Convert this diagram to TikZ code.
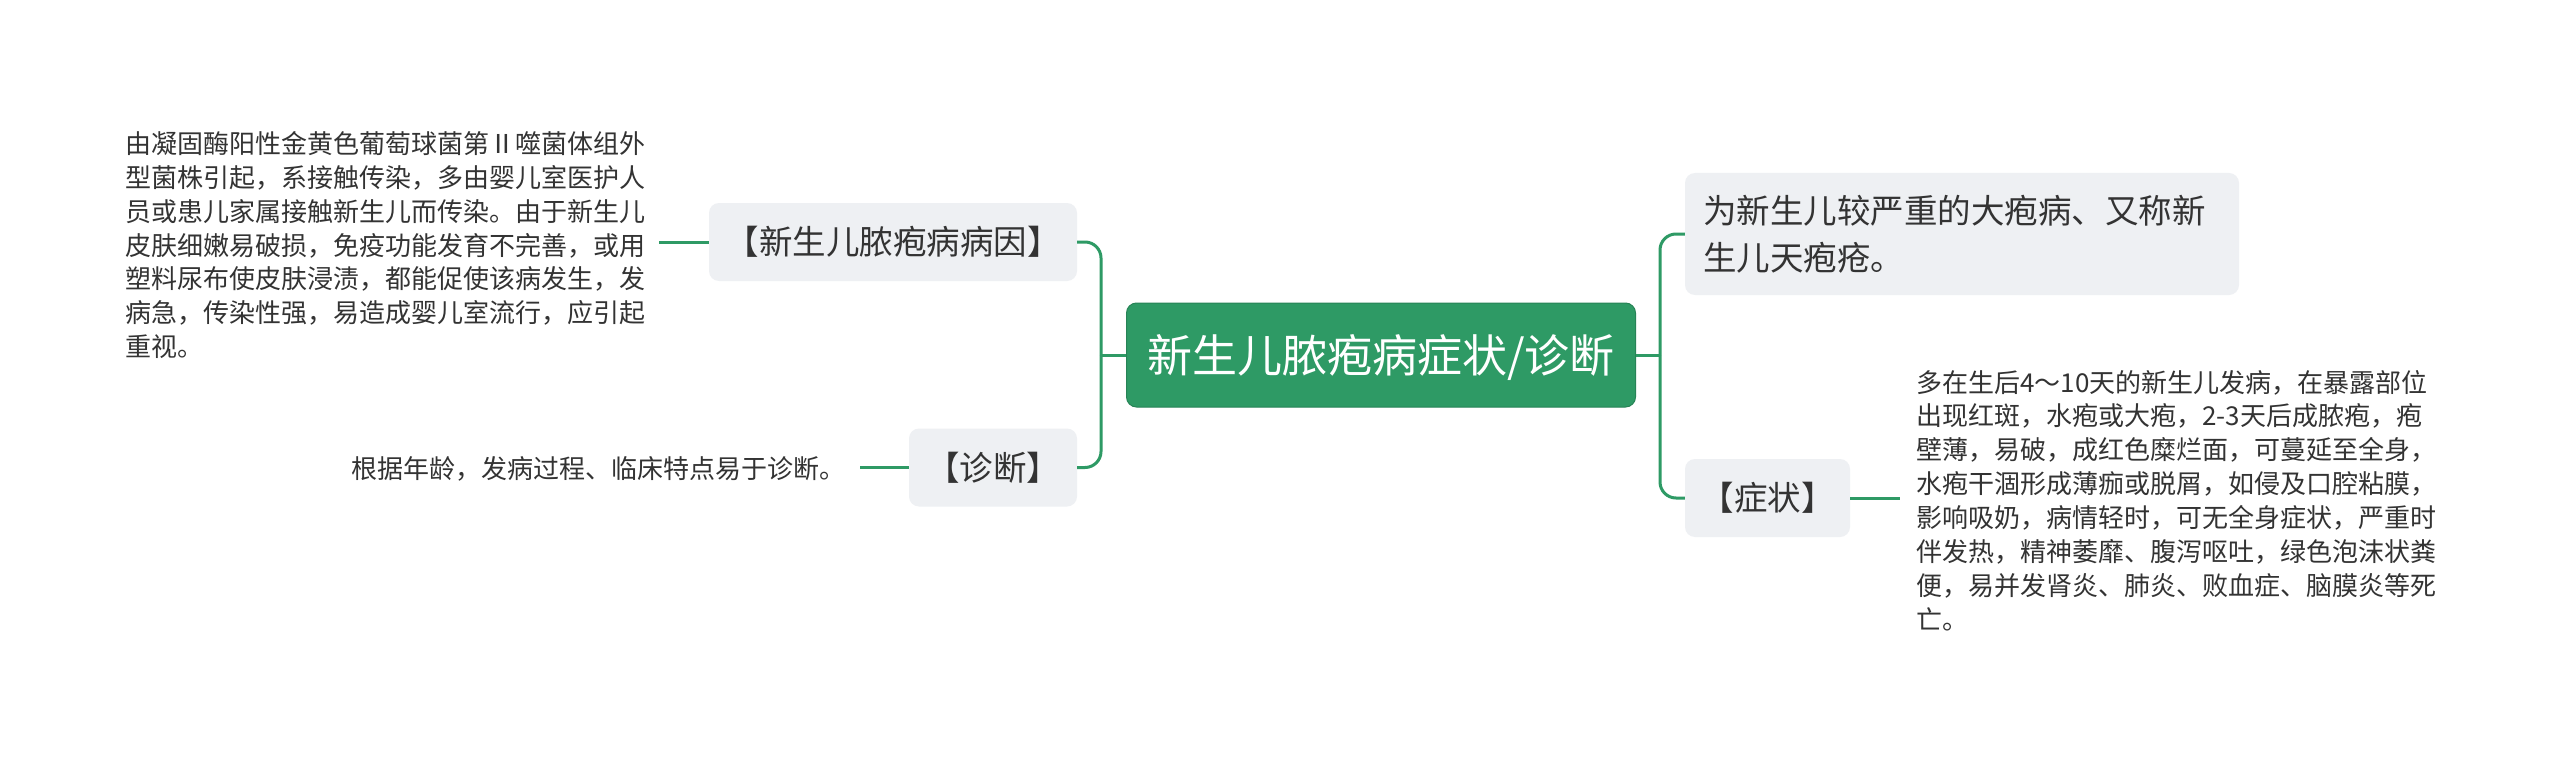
\documentclass[tikz,border=0pt]{standalone}
\usepackage{fontspec}
\setmainfont{Noto Sans CJK SC}
\definecolor{mgreen}{HTML}{2E9A65}
\definecolor{boxgray}{HTML}{EEF0F3}
\definecolor{txt}{HTML}{333333}
\tikzset{
  topicbox/.style={rectangle, rounded corners=10pt, fill=boxgray, text=txt,
    font=\fontsize{33.5}{47}\selectfont, inner sep=0pt,
    text height=29pt, text depth=4pt},
  centralbox/.style={rectangle, rounded corners=10pt, fill=mgreen, draw=mgreen!85!black, line width=1pt,
    text=white, font=\fontsize{45}{54}\selectfont, inner sep=0pt,
    text height=39.5pt, text depth=5.5pt, minimum width=509pt, minimum height=104pt},
  para/.style={text=txt, font=\fontsize{26}{33.9}\selectfont, inner sep=0pt,
    align=left, anchor=base west},
  conn/.style={draw=mgreen, line width=3pt, rounded corners=16pt}
}
\begin{document}
\begin{tikzpicture}[x=1pt,y=-1pt]
\useasboundingbox[fill=white] (0,0) rectangle (2560,757);

% central
\node[centralbox] (c) at (1381,355) {新生儿脓疱病症状/诊断};

% left topics
\node[topicbox, minimum width=368pt, minimum height=78pt] (cause) at (893,242) {【新生儿脓疱病病因】};
\node[topicbox, minimum width=168pt, minimum height=78pt] (diag) at (993,467.5) {【诊断】};

% right topics
\node[topicbox, minimum width=554pt, minimum height=122pt, text width=518pt, align=left,
      text height=, text depth=, inner xsep=18pt] (def) at (1962,234)
  {为新生儿较严重的大疱病、又称新\\生儿天疱疮。};
\node[topicbox, minimum width=165pt, minimum height=78pt] (sym) at (1767.5,498) {【症状】};

% leaf texts
\node[para, text width=545pt] (causetext) at (125,153.4)
  {由凝固酶阳性金黄色葡萄球菌第Ⅱ噬菌体组外\\
   型菌株引起，系接触传染，多由婴儿室医护人\\
   员或患儿家属接触新生儿而传染。由于新生儿\\
   皮肤细嫩易破损，免疫功能发育不完善，或用\\
   塑料尿布使皮肤浸渍，都能促使该病发生，发\\
   病急，传染性强，易造成婴儿室流行，应引起\\
   重视。};
\node[para] (diagtext) at (351,478) {根据年龄，发病过程、临床特点易于诊断。};
\node[para, text width=545pt] (symtext) at (1916,392)
  {多在生后4～10天的新生儿发病，在暴露部位\\
   出现红斑，水疱或大疱，2-3天后成脓疱，疱\\
   壁薄，易破，成红色糜烂面，可蔓延至全身，\\
   水疱干涸形成薄痂或脱屑，如侵及口腔粘膜，\\
   影响吸奶，病情轻时，可无全身症状，严重时\\
   伴发热，精神萎靡、腹泻呕吐，绿色泡沫状粪\\
   便，易并发肾炎、肺炎、败血症、脑膜炎等死\\
   亡。};

% junction coordinates
\coordinate (jl) at (1101,355);
\coordinate (jr) at (1660,355);
\coordinate (lcause) at (659,242);
\coordinate (ldiag) at (860,467.5);
\coordinate (lsym) at (1900,498);

% connectors
\draw[conn] (c.west) -- (jl);
\draw[conn] (jl) |- (cause.east);
\draw[conn] (jl) |- (diag.east);
\draw[conn] (c.east) -- (jr);
\draw[conn] (jr) |- (def.west);
\draw[conn] (jr) |- (sym.west);
\draw[conn] (cause.west) -- (lcause);
\draw[conn] (diag.west) -- (ldiag);
\draw[conn] (sym.east) -- (lsym);
\end{tikzpicture}
\end{document}
